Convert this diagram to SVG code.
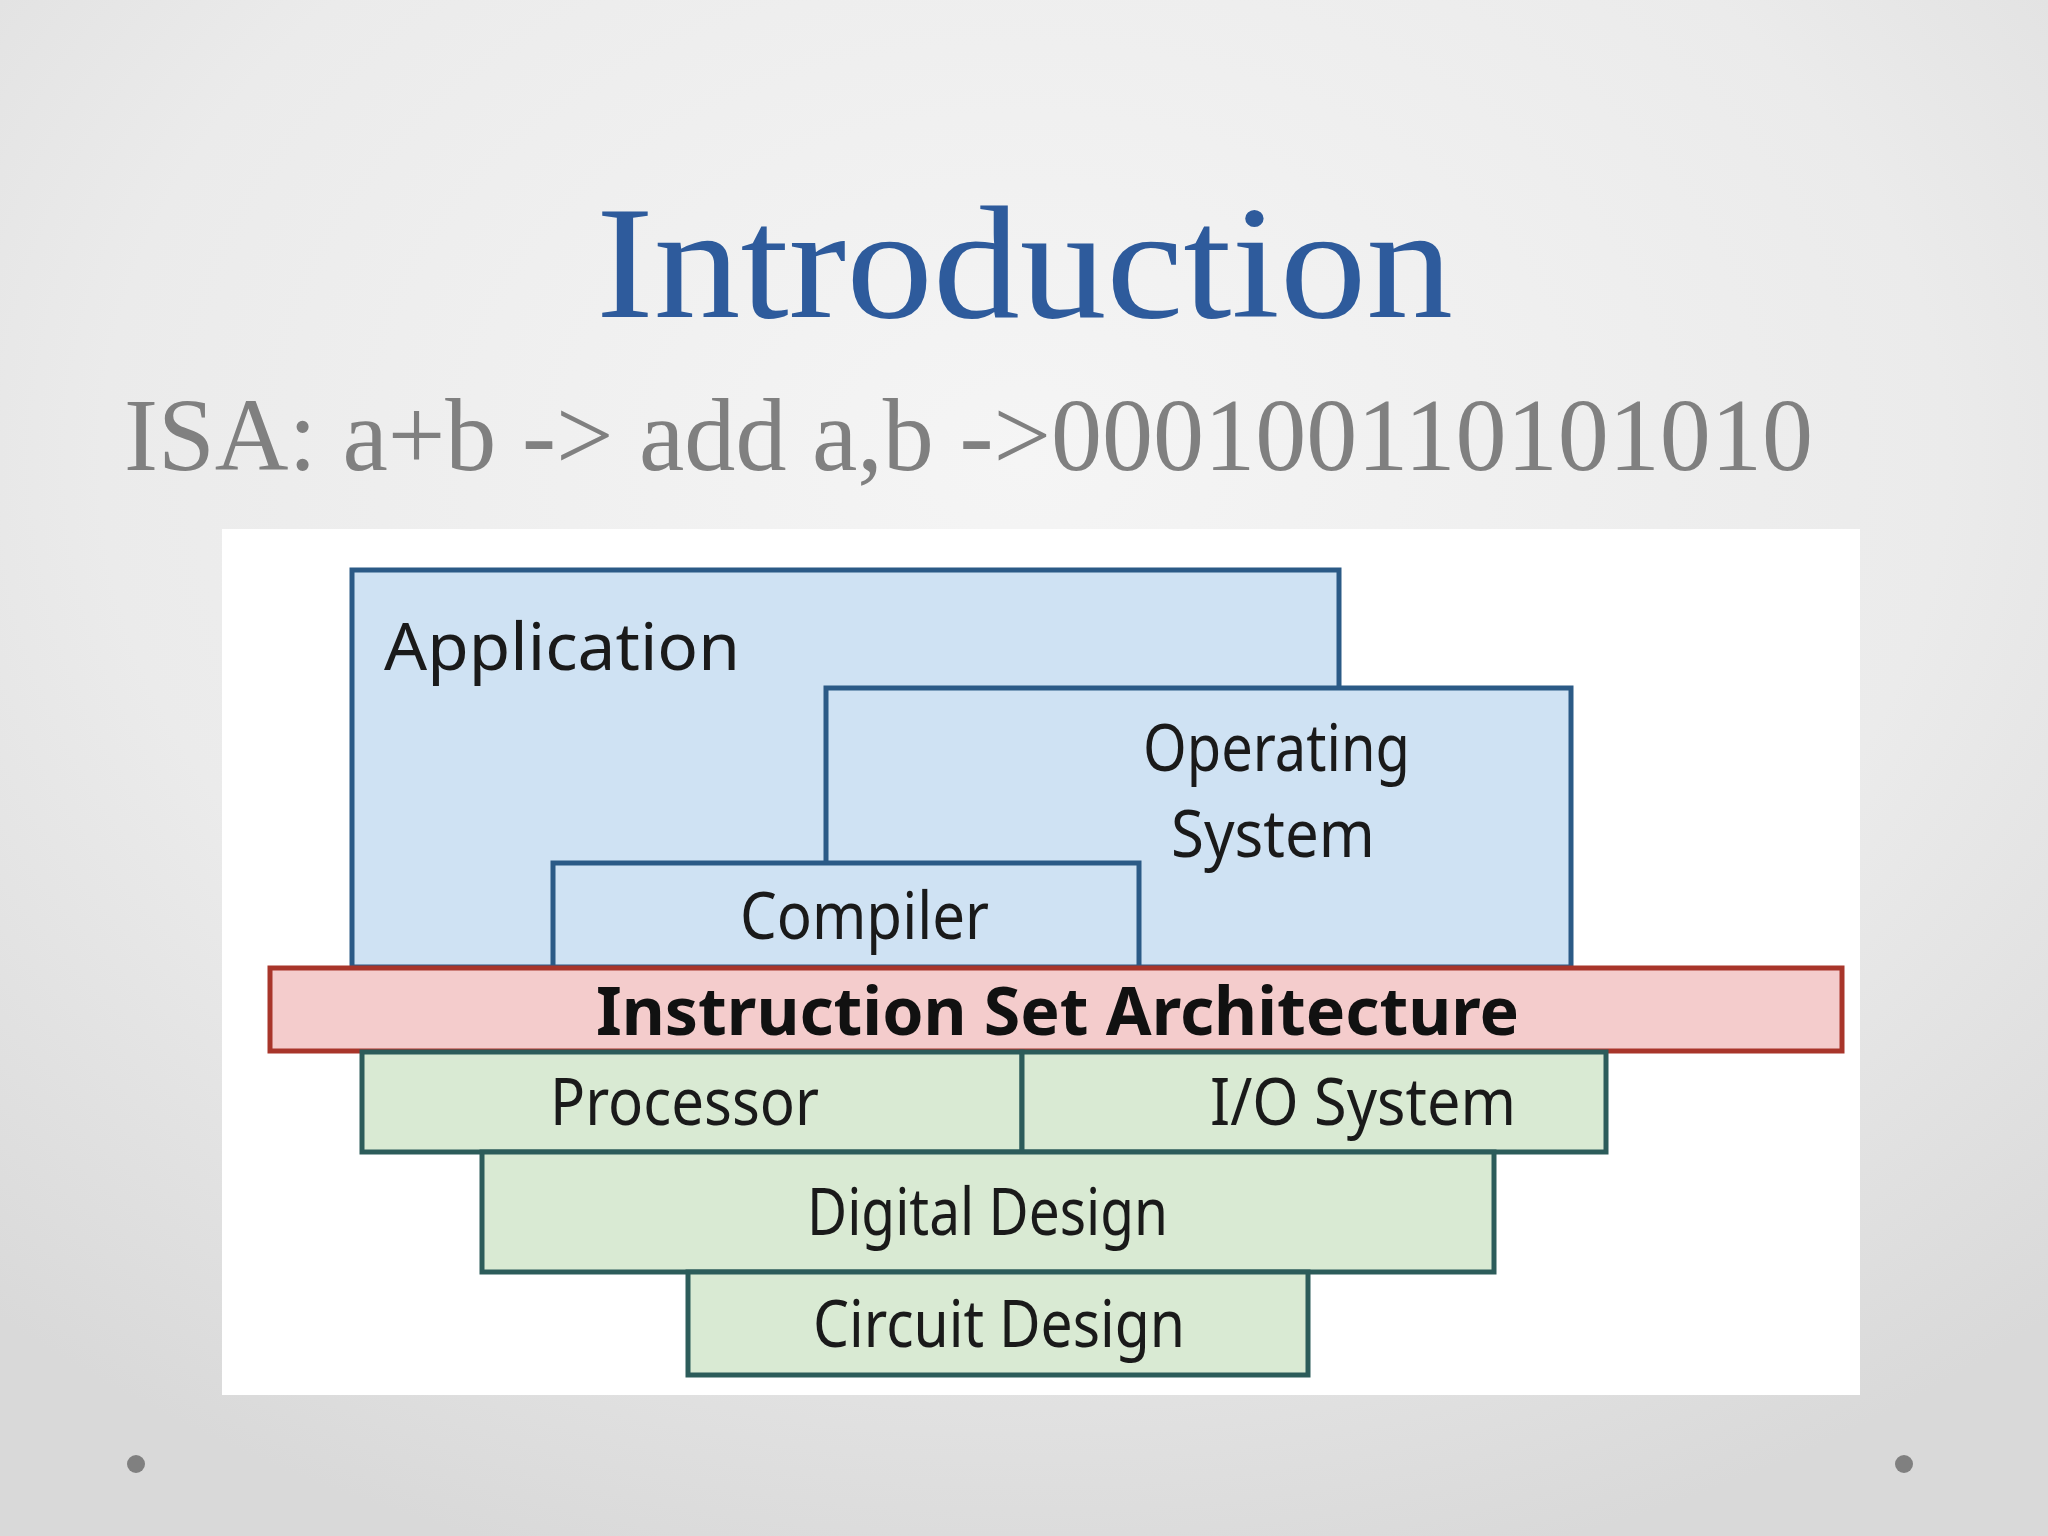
<svg xmlns="http://www.w3.org/2000/svg" width="2048" height="1536" viewBox="0 0 2048 1536">
<defs>
<radialGradient id="bg" cx="0.5" cy="0.3" r="0.75">
<stop offset="0" stop-color="#f5f5f5"/>
<stop offset="0.6" stop-color="#ebebeb"/>
<stop offset="1" stop-color="#d9d9d9"/>
</radialGradient>
<style>
.blue{fill:#cfe2f3;stroke:#2b5a86;stroke-width:5}
.red{fill:#f4cccc;stroke:#a8352a;stroke-width:5}
.green{fill:#d9ead3;stroke:#2c5c5a;stroke-width:5}
.lbl{font-family:"Noto Sans","DejaVu Sans",sans-serif;font-size:66px;fill:#1a1a1a}
.bold{font-weight:bold;fill:#111}
</style>
</defs>
<rect width="2048" height="1536" fill="url(#bg)"/>
<text x="596" y="317" font-family="Liberation Serif, serif" font-size="160" fill="#2e5b9c" textLength="857" lengthAdjust="spacingAndGlyphs">Introduction</text>
<text x="124" y="470" font-family="Liberation Serif, serif" font-size="104" fill="#808080" textLength="1689" lengthAdjust="spacingAndGlyphs">ISA: a+b -&gt; add a,b -&gt;000100110101010</text>
<rect x="222" y="529" width="1638" height="866" fill="#ffffff"/>
<g id="application"><rect class="blue" x="352" y="570" width="987" height="397"/><text class="lbl" x="384" y="670" font-size="74" textLength="356" lengthAdjust="spacingAndGlyphs">Application</text></g>
<g id="os"><rect class="blue" x="826" y="688" width="745" height="279"/><text class="lbl" x="1143" y="771" font-size="56" textLength="267" lengthAdjust="spacingAndGlyphs">Operating</text><text class="lbl" x="1171" y="857" font-size="56" textLength="204" lengthAdjust="spacingAndGlyphs">System</text></g>
<g id="compiler"><rect class="blue" x="553" y="863" width="586" height="104"/><text class="lbl" x="740" y="939" textLength="249" lengthAdjust="spacingAndGlyphs">Compiler</text></g>
<g id="isa"><rect class="red" x="270" y="968" width="1572" height="83"/><text class="lbl bold" x="596" y="1035" font-size="70" textLength="923" lengthAdjust="spacingAndGlyphs">Instruction Set Architecture</text></g>
<g id="processor"><rect class="green" x="362" y="1052" width="660" height="100"/><text class="lbl" x="550" y="1125" textLength="269" lengthAdjust="spacingAndGlyphs">Processor</text></g>
<g id="io"><rect class="green" x="1022" y="1052" width="584" height="100"/><text class="lbl" x="1210" y="1125" textLength="306" lengthAdjust="spacingAndGlyphs">I/O System</text></g>
<g id="digital"><rect class="green" x="482" y="1152" width="1012" height="120"/><text class="lbl" x="807" y="1235" textLength="361" lengthAdjust="spacingAndGlyphs">Digital Design</text></g>
<g id="circuit"><rect class="green" x="688" y="1272" width="620" height="103"/><text class="lbl" x="813" y="1347" textLength="372" lengthAdjust="spacingAndGlyphs">Circuit Design</text></g>
<g id="connectors"></g>
<circle cx="136" cy="1464" r="9" fill="#808080"/>
<circle cx="1904" cy="1464" r="9" fill="#808080"/>
</svg>
